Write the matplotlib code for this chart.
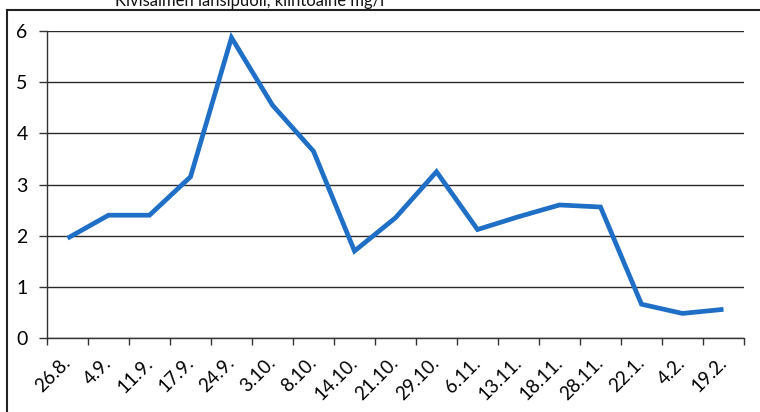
import matplotlib
matplotlib.use("Agg")
import matplotlib.pyplot as plt
from matplotlib.lines import Line2D

# Sampling dates and suspended solids (mg/l)
dates = ["26.8.", "4.9.", "11.9.", "17.9.", "24.9.", "3.10.", "8.10.", "14.10.",
         "21.10.", "29.10.", "6.11.", "13.11.", "18.11.", "28.11.", "22.1.", "4.2.", "19.2."]
solids = [1.95, 2.40, 2.40, 3.15, 5.87, 4.55, 3.65, 1.70,
          2.35, 3.25, 2.12, 2.37, 2.60, 2.56, 0.66, 0.48, 0.56]
yticks = [0, 1, 2, 3, 4, 5, 6]
title = "Kivisalmen länsipuoli, kiintoaine mg/l"

W, H = 760, 412
plt.rcParams["font.family"] = ["Lato", "DejaVu Sans"]
fig = plt.figure(figsize=(W / 100, H / 100), dpi=100)
ax = fig.add_axes([47 / W, 1 - 338 / H, (744 - 47) / W, (338 - 31) / H])

x = list(range(len(dates)))
ax.plot(x, solids, color="#1f6fc6", lw=3.4, solid_joinstyle="miter", solid_capstyle="butt", zorder=3)

ax.set_xlim(-0.5, len(dates) - 0.5)
ax.set_ylim(0, 6)
ax.set_yticks(yticks)
ax.set_yticklabels([str(v) for v in yticks], fontsize=14)
ax.yaxis.grid(True, color="#2a2a2a", lw=1.0)
ax.tick_params(axis="y", length=6, width=1, color="#333333", pad=8)

# category labels at centres, tick marks on category boundaries
ax.set_xticks(x)
ax.set_xticklabels(dates, rotation=45, ha="right", va="center",
                   rotation_mode="anchor", fontsize=13.5)
ax.tick_params(axis="x", which="major", length=0, pad=16)
ax.set_xticks([i - 0.5 for i in range(len(dates) + 1)], minor=True)
ax.tick_params(axis="x", which="minor", length=5, width=1, color="#333333")

for s in ["top", "right"]:
    ax.spines[s].set_visible(False)
for s in ["left", "bottom"]:
    ax.spines[s].set_color("#333333")
    ax.spines[s].set_linewidth(1.0)

# outer chart frame and the title above it
fig.add_artist(Line2D([7 / W, 7 / W], [0, 1 - 10 / H], color="#222222", lw=1.5))
fig.add_artist(Line2D([7 / W, 1], [1 - 10 / H, 1 - 10 / H], color="#222222", lw=1.5))
fig.text(115 / W, 1 - 6 / H, title, fontsize=12, ha="left", va="baseline", color="#111111")

fig.savefig("out.png", dpi=100)
